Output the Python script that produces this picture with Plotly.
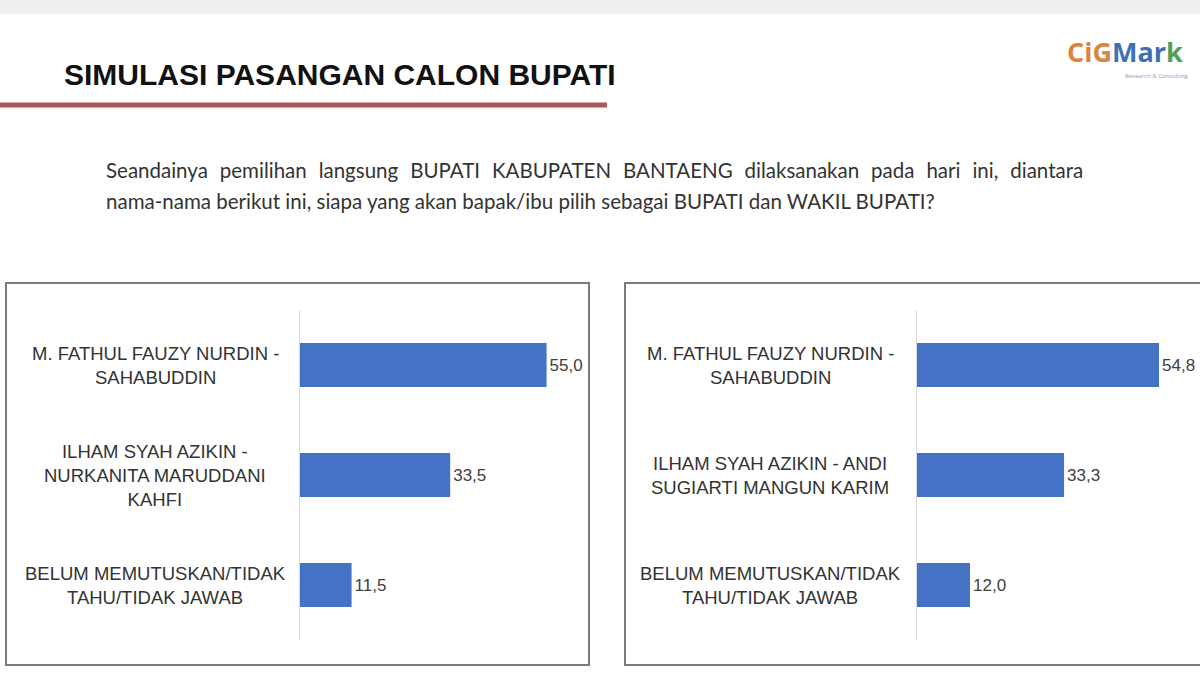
import plotly.graph_objects as go

# ---- data ----
left_categories = [
    "M. FATHUL FAUZY NURDIN -<br>SAHABUDDIN",
    "ILHAM SYAH AZIKIN -<br>NURKANITA MARUDDANI<br>KAHFI",
    "BELUM MEMUTUSKAN/TIDAK<br>TAHU/TIDAK JAWAB",
]
left_values = [55.0, 33.5, 11.5]

right_categories = [
    "M. FATHUL FAUZY NURDIN -<br>SAHABUDDIN",
    "ILHAM SYAH AZIKIN - ANDI<br>SUGIARTI MANGUN KARIM",
    "BELUM MEMUTUSKAN/TIDAK<br>TAHU/TIDAK JAWAB",
]
right_values = [54.8, 33.3, 12.0]

title_text = "SIMULASI PASANGAN CALON BUPATI"
question_line1 = "Seandainya pemilihan langsung BUPATI KABUPATEN BANTAENG dilaksanakan pada hari ini, diantara"
question_line2 = "nama-nama berikut ini, siapa yang akan bapak/ibu pilih sebagai BUPATI dan WAKIL BUPATI?"

W, H = 1200, 675
BAR = "#4472C4"
LABEL_FONT = "Liberation Sans, Arial, sans-serif"
Q_FONT = dict(family="Lato, Open Sans, sans-serif", size=20.5, color="#333333")


def fmt(v):
    return f"{v:.1f}".replace(".", ",")


def px_x(p):
    return p / W


def px_y(p):
    return 1 - p / H


fig = go.Figure()

val_font = dict(family="Liberation Sans, Arial, sans-serif", size=17, color="#404040")
fig.add_trace(go.Bar(
    x=left_values, y=list(range(len(left_categories))), orientation="h",
    marker=dict(color=BAR, line=dict(width=0)), width=0.4,
    text=[fmt(v) for v in left_values], textposition="outside", textfont=val_font,
    cliponaxis=False, xaxis="x", yaxis="y", showlegend=False, hoverinfo="skip",
))
fig.add_trace(go.Bar(
    x=right_values, y=list(range(len(right_categories))), orientation="h",
    marker=dict(color=BAR, line=dict(width=0)), width=0.4,
    text=[fmt(v) for v in right_values], textposition="outside", textfont=val_font,
    cliponaxis=False, xaxis="x2", yaxis="y2", showlegend=False, hoverinfo="skip",
))

ydom = [px_y(640), px_y(310)]
axis_common = dict(showgrid=False, zeroline=False, showticklabels=False, ticks="", fixedrange=True)
fig.update_layout(
    width=W, height=H,
    margin=dict(l=0, r=0, t=0, b=0),
    paper_bgcolor="white", plot_bgcolor="rgba(0,0,0,0)",
    xaxis=dict(domain=[px_x(300), px_x(569)], range=[0, 60], anchor="y", **axis_common),
    yaxis=dict(domain=ydom, range=[2.5, -0.5], anchor="x", showline=True,
               linecolor="#d9d9d9", linewidth=1, **axis_common),
    xaxis2=dict(domain=[px_x(917), px_x(1182)], range=[0, 60], anchor="y2", **axis_common),
    yaxis2=dict(domain=ydom, range=[2.5, -0.5], anchor="x2", showline=True,
                linecolor="#d9d9d9", linewidth=1, **axis_common),
)

# category labels, centred like the original slide
cat_font = dict(family=LABEL_FONT, size=18.5, color="#333333")
for i, c in enumerate(left_categories):
    fig.add_annotation(text=c, x=px_x(155), xref="paper", y=i, yref="y",
                       xanchor="center", yanchor="middle", align="center", showarrow=False,
                       font=cat_font)
for i, c in enumerate(right_categories):
    fig.add_annotation(text=c, x=px_x(770), xref="paper", y=i, yref="y2",
                       xanchor="center", yanchor="middle", align="center", showarrow=False,
                       font=cat_font)

shapes = []
# top grey strip
shapes.append(dict(type="rect", xref="paper", yref="paper", x0=0, x1=1, y0=px_y(14), y1=1,
                   fillcolor="#eeeeee", line=dict(width=0), layer="below"))
# red underline
shapes.append(dict(type="line", xref="paper", yref="paper", x0=0, x1=px_x(607),
                   y0=px_y(105), y1=px_y(105), line=dict(color="#a9585c", width=5)))
# panel boxes
shapes.append(dict(type="rect", xref="paper", yref="paper", x0=px_x(6), x1=px_x(589),
                   y0=px_y(665), y1=px_y(283), line=dict(color="#7a7a7a", width=2),
                   fillcolor="rgba(0,0,0,0)", layer="below"))
shapes.append(dict(type="rect", xref="paper", yref="paper", x0=px_x(625), x1=px_x(1210),
                   y0=px_y(665), y1=px_y(283), line=dict(color="#7a7a7a", width=2),
                   fillcolor="rgba(0,0,0,0)", layer="below"))
fig.update_layout(shapes=shapes)

# title
fig.add_annotation(text=f"<b>{title_text}</b>", x=px_x(62), y=px_y(74), xref="paper", yref="paper",
                   xanchor="left", yanchor="middle", showarrow=False,
                   font=dict(family="Liberation Sans, Arial, sans-serif", size=30, color="#111111"))
# logo
fig.add_annotation(
    text="<b><span style='color:#d9853b'>CiG</span><span style='color:#3f6fb5'>Mar</span>"
         "<span style='color:#4fa05a'>k</span></b>",
    x=px_x(1125), y=px_y(52), xref="paper", yref="paper", xanchor="center", yanchor="middle",
    showarrow=False, font=dict(family="Open Sans, sans-serif", size=27))
fig.add_annotation(text="Research &amp; Consulting", x=px_x(1157), y=px_y(76), xref="paper", yref="paper",
                   xanchor="center", yanchor="middle", showarrow=False,
                   font=dict(family="Open Sans, sans-serif", size=6, color="#8aa0b8"))

# question (first line is justified on the slide: widen its word spaces)
wide_space = "\u2004\u2005"
fig.add_annotation(text=question_line1.replace(" ", wide_space), x=px_x(104), y=px_y(170),
                   xref="paper", yref="paper",
                   xanchor="left", yanchor="middle", showarrow=False, font=Q_FONT)
fig.add_annotation(text=question_line2, x=px_x(104), y=px_y(201), xref="paper", yref="paper",
                   xanchor="left", yanchor="middle", showarrow=False, font=Q_FONT)

fig.write_html("out.html", config={"displayModeBar": False, "staticPlot": True},
               post_script="document.body.style.margin='0';document.body.style.overflow='hidden';")
